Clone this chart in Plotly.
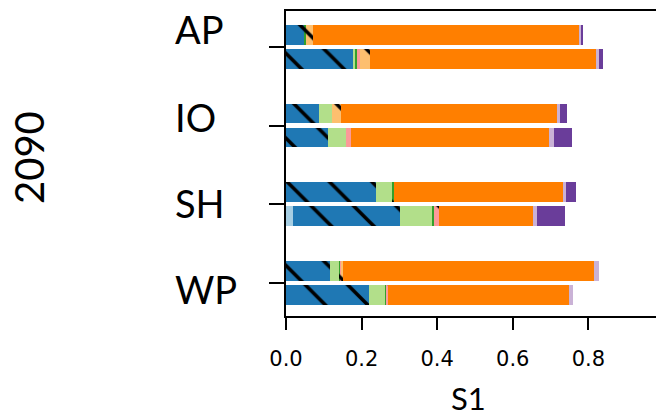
import plotly.graph_objects as go

# ---- data ----
categories = ["AP", "IO", "SH", "WP"]
group_label = "2090"
# each list: [AP upper, AP lower, IO upper, IO lower, SH upper, SH lower, WP upper, WP lower]
light_blue   = [0.000, 0.000, 0.000, 0.000, 0.000, 0.018, 0.000, 0.000]
blue         = [0.050, 0.177, 0.087, 0.110, 0.237, 0.283, 0.117, 0.219]
light_green  = [0.000, 0.006, 0.034, 0.050, 0.045, 0.085, 0.024, 0.045]
green        = [0.003, 0.005, 0.000, 0.000, 0.003, 0.006, 0.002, 0.003]
pink         = [0.000, 0.008, 0.000, 0.011, 0.000, 0.012, 0.005, 0.002]
red          = [0.000, 0.000, 0.000, 0.000, 0.000, 0.000, 0.000, 0.000]
light_orange = [0.019, 0.026, 0.024, 0.000, 0.000, 0.000, 0.003, 0.000]
orange       = [0.704, 0.600, 0.571, 0.526, 0.450, 0.249, 0.664, 0.479]
light_purple = [0.004, 0.005, 0.008, 0.013, 0.005, 0.011, 0.013, 0.011]
purple       = [0.007, 0.013, 0.019, 0.048, 0.027, 0.074, 0.000, 0.000]
x_ticks = [0.0, 0.2, 0.4, 0.6, 0.8]
x_tick_labels = ["0.0", "0.2", "0.4", "0.6", "0.8"]
x_title = "S1"

series = [
    ("light_blue", light_blue, "#a6cee3", False),
    ("blue", blue, "#1f78b4", True),
    ("light_green", light_green, "#b2df8a", False),
    ("green", green, "#33a02c", True),
    ("pink", pink, "#fb9a99", True),
    ("red", red, "#e31a1c", True),
    ("light_orange", light_orange, "#fdbf6f", True),
    ("orange", orange, "#ff7f00", False),
    ("light_purple", light_purple, "#cab2d6", False),
    ("purple", purple, "#6a3d9a", False),
]

# bar positions: two bars per category
offsets = [-0.155, 0.15]
ypos = []
for k in range(len(categories)):
    for o in offsets:
        ypos.append(k + o)

fig = go.Figure()
for name, vals, col, hatched in series:
    marker = dict(color=col, line=dict(width=0))
    if hatched:
        marker["pattern"] = dict(shape="\\", fgcolor="black", fgopacity=1, size=30,
                                 solidity=0.12, fillmode="overlay")
    fig.add_trace(go.Bar(x=vals, y=ypos, orientation="h", width=0.25,
                         marker=marker, name=name, showlegend=False,
                         hoverinfo="skip"))

W, H = 656, 416
L, R, T, B = 286, 0, 11, 100
pw, ph = W - L - R, H - T - B

def px_to_paper(px, py):
    return (px - L) / pw, (H - B - py) / ph

annotations = []
label_y = [29, 117, 203, 289]
for cat, py in zip(categories, label_y):
    ax, ay = px_to_paper(173, py)
    annotations.append(dict(x=ax, y=ay, xref="paper", yref="paper", text=cat,
                            showarrow=False, xanchor="left", yanchor="middle",
                            font=dict(family="Lato", size=38, color="black")))
gx, gy = px_to_paper(29, 158)
annotations.append(dict(x=gx, y=gy, xref="paper", yref="paper", text=group_label,
                        showarrow=False, textangle=-90, xanchor="center", yanchor="middle",
                        font=dict(family="Lato", size=40, color="black")))
sx, sy = px_to_paper(468, 398)
annotations.append(dict(x=sx, y=sy, xref="paper", yref="paper", text=x_title,
                        showarrow=False, xanchor="center", yanchor="middle",
                        font=dict(family="Lato", size=31, color="black")))

fig.update_layout(
    width=W, height=H, margin=dict(l=L, r=R, t=T, b=B, pad=0),
    barmode="stack", bargap=0,
    plot_bgcolor="white", paper_bgcolor="white",
    annotations=annotations,
    xaxis=dict(range=[0, 0.979], tickvals=x_ticks, ticktext=x_tick_labels,
               showgrid=False, zeroline=False, showline=True, linecolor="black",
               linewidth=2, mirror=True, ticks="outside", ticklen=12, tickwidth=2,
               tickcolor="black", ticklabelstandoff=11,
               tickfont=dict(family="DejaVu Sans", size=21, color="black")),
    yaxis=dict(range=[3.419, -0.458], tickvals=list(range(len(categories))),
               showticklabels=False, showgrid=False, zeroline=False,
               showline=True, linecolor="black", linewidth=2,
               ticks="outside", ticklen=15, tickwidth=2, tickcolor="black"),
)
fig.write_html("out.html", config={"displayModeBar": False},
               post_script="document.body.style.margin='0px';document.body.style.overflow='hidden';")
